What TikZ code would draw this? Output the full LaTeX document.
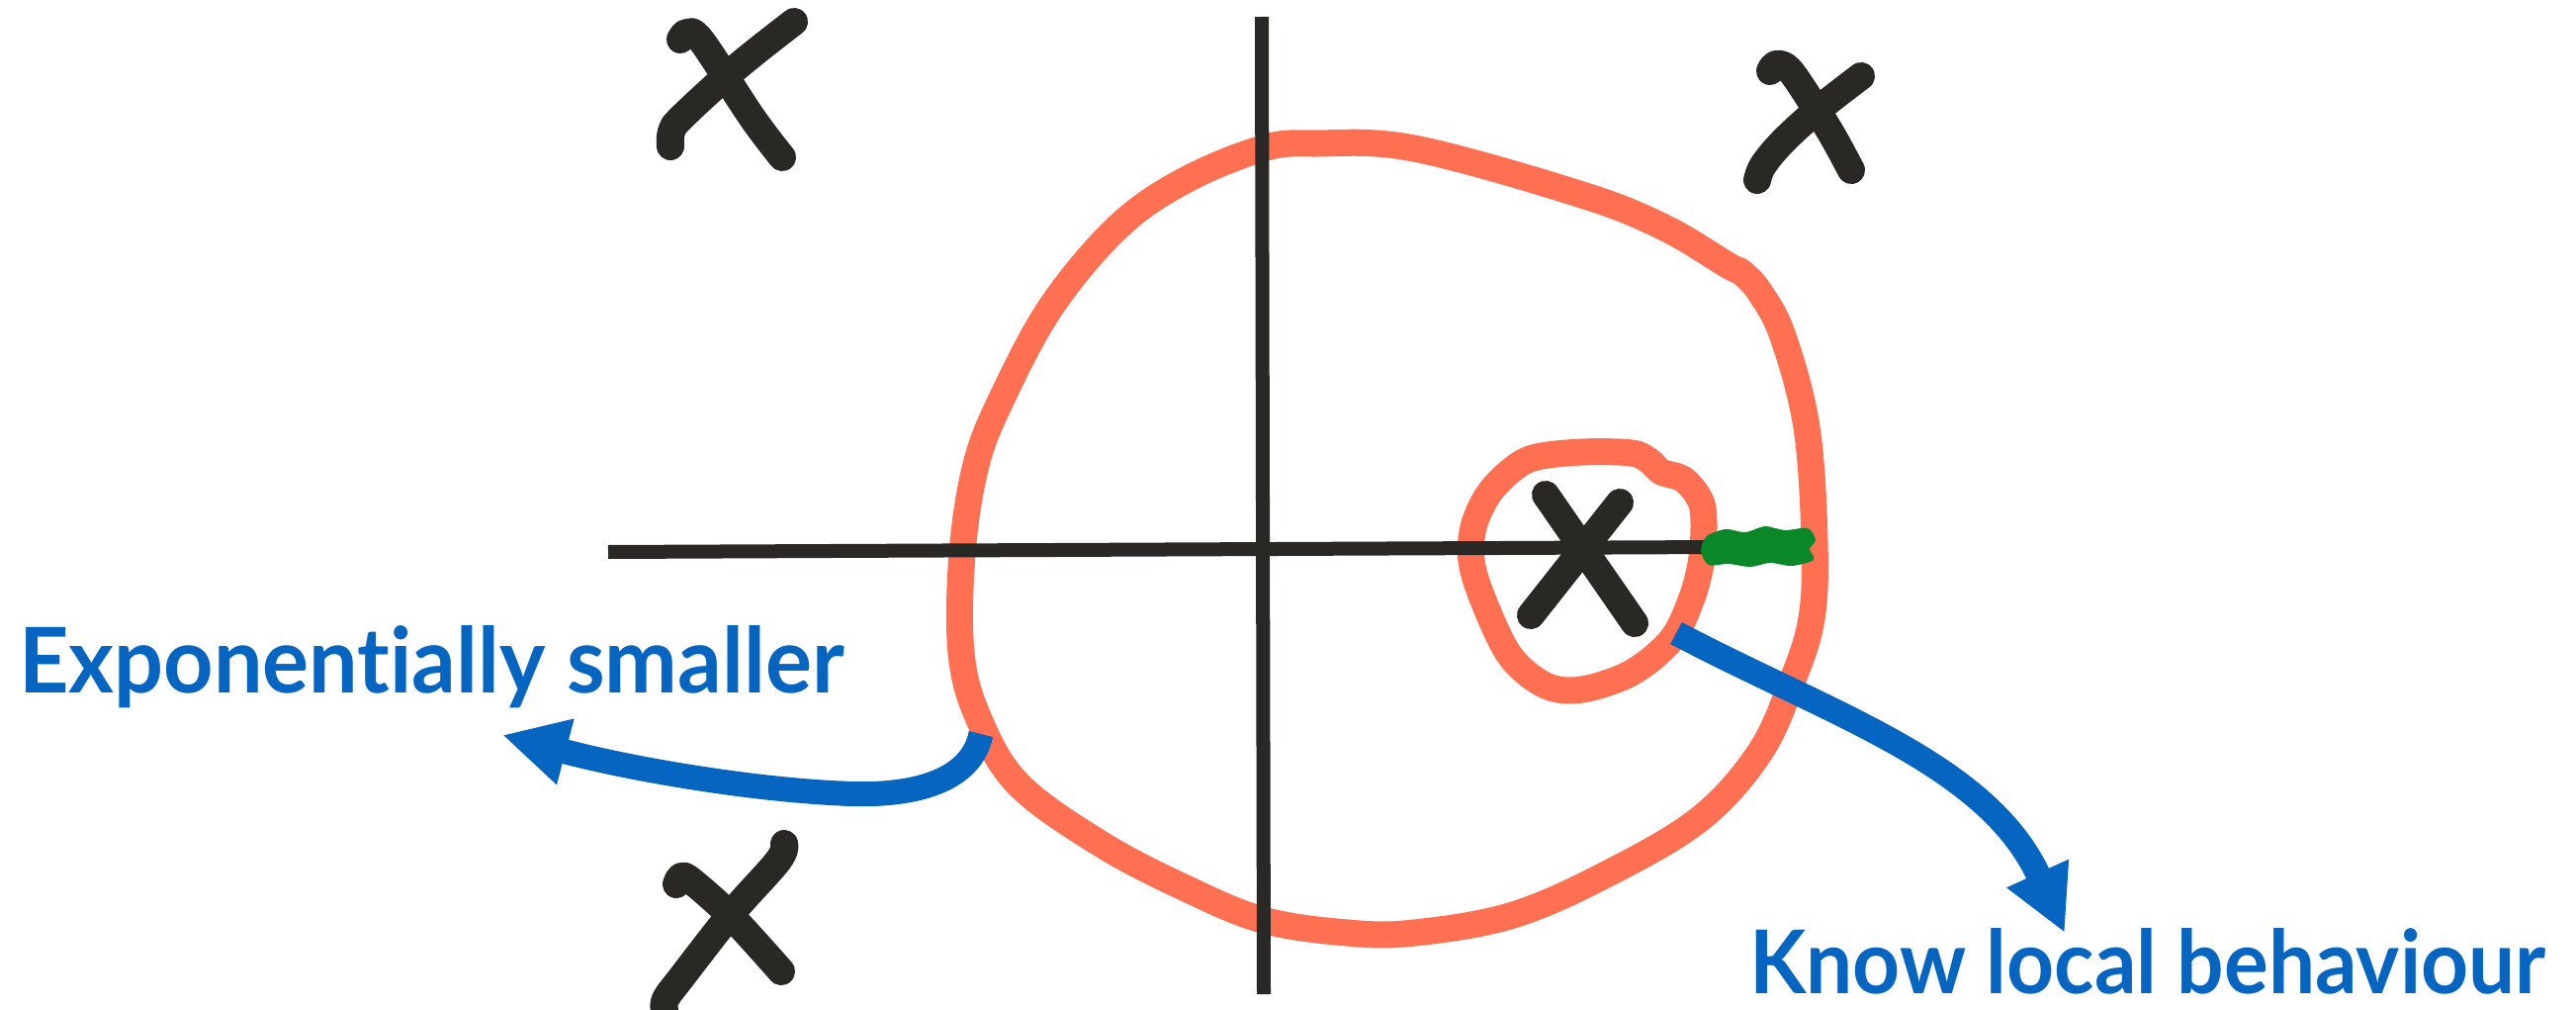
\documentclass[tikz,border=0pt]{standalone}
\usepackage{fontspec}
\setmainfont{Lato}[Ligatures=NoCommon]
\usetikzlibrary{arrows.meta}
\definecolor{inkblack}{RGB}{42,40,37}
\definecolor{loopred}{RGB}{255,112,82}
\definecolor{noteblue}{RGB}{5,101,192}
\definecolor{scribgreen}{RGB}{10,135,40}
\tikzset{
  axisline/.style={draw=inkblack, line width=0.14cm},
  polemark/.style={draw=inkblack, line width=0.28cm, line cap=round, line join=round},
  contour/.style={draw=loopred, line width=0.27cm, line join=round},
  notearrow/.style={draw=noteblue, line width=0.25cm, -{Triangle[length=0.66cm,width=0.64cm]}},
  notetext/.style={inner sep=0pt, outer sep=0pt, text=noteblue, anchor=base west, font=\bfseries}
}
\begin{document}
\begin{tikzpicture}[x=0.01cm,y=-0.01cm]
\useasboundingbox (0,0) rectangle (2605,1021);
\fill[white] (0,0) rectangle (2605,1021);

% big contour
\draw[contour] plot[smooth cycle, tension=0.6] coordinates {
 (1330,145) (1430,150) (1600,197) (1683,230) (1747,268) (1762,276) (1780,296) (1803,340)
 (1827,432) (1835,548) (1832,625) (1813,687) (1780,760) (1720,827) (1628,882) (1530,925)
 (1430,943) (1363,943) (1277,930) (1197,897) (1113,853) (1030,793) (990,727) (972,660)
 (973,560) (987,470) (1013,403) (1063,310) (1130,230) (1197,183) (1277,150)};

% small contour
\draw[contour] plot[smooth cycle, tension=0.55] coordinates {
 (1550,463) (1600,457) (1650,458) (1668,466) (1680,477) (1703,485) (1720,507) (1723,533)
 (1720,570) (1710,607) (1690,647) (1650,680) (1600,697) (1563,693) (1527,663) (1500,607)
 (1488,567) (1490,533) (1503,503) (1523,480)};

% axes
\coordinate (vtop) at (1276,17);
\coordinate (vbot) at (1278,1005);
\coordinate (hleft) at (615,558);
\coordinate (hright) at (1740,553);
\draw[axisline] (vtop) -- (vbot);
\draw[axisline] (hleft) -- (hright);

% green scribble
\fill[scribgreen] plot[smooth cycle, tension=0.5] coordinates {
 (1726,542) (1745,535) (1765,538) (1785,532) (1805,536) (1828,534) (1836,546) (1830,555)
 (1834,566) (1812,572) (1790,569) (1770,573) (1748,570) (1728,571) (1720,557)};

% pole marks
\draw[polemark] (1563,500) -- (1653,630);
\draw[polemark] (1638,508) -- (1548,622);

\draw[polemark] plot[smooth, tension=0.6] coordinates {(688,40) (695,33) (710,42) (760,118) (791,159)};
\draw[polemark] plot[smooth, tension=0.6] coordinates {(803,22) (745,68) (690,118) (679,133) (678,148)};

\draw[polemark] plot[smooth, tension=0.6] coordinates {(1790,72) (1796,65) (1809,70) (1830,100) (1853,137) (1872,172)};
\draw[polemark] plot[smooth, tension=0.6] coordinates {(1882,77) (1837,112) (1803,143) (1783,167) (1777,182)};

\draw[polemark] plot[smooth, tension=0.6] coordinates {(684,894) (689,886) (700,891) (740,927) (790,982)};
\draw[polemark] plot[smooth, tension=0.6] coordinates {(793,853) (787,870) (740,923) (690,987) (673,1010) (672,1021)};

% labels
\node[notetext] (expsmall) at (19,700) {\resizebox{8.34cm}{0.68cm}{Exponentially smaller}};
\node[notetext] (knowlocal) at (1769,1004) {\resizebox{8.05cm}{0.66cm}{Know local behaviour}};

% arrows
\coordinate (lstart) at (992,742);
\coordinate (lmid) at (850,802);
\coordinate (ltip) at (508,743);
\draw[notearrow] (lstart) .. controls (980,800) and (900,805) .. (lmid) .. controls (760,798) and (640,778) .. (ltip);

\coordinate (rstart) at (1695,640);
\coordinate (rtip) at (2088,943);
\draw[notearrow] (rstart) .. controls (1850,722) and (2010,772) .. (rtip);
\end{tikzpicture}
\end{document}
